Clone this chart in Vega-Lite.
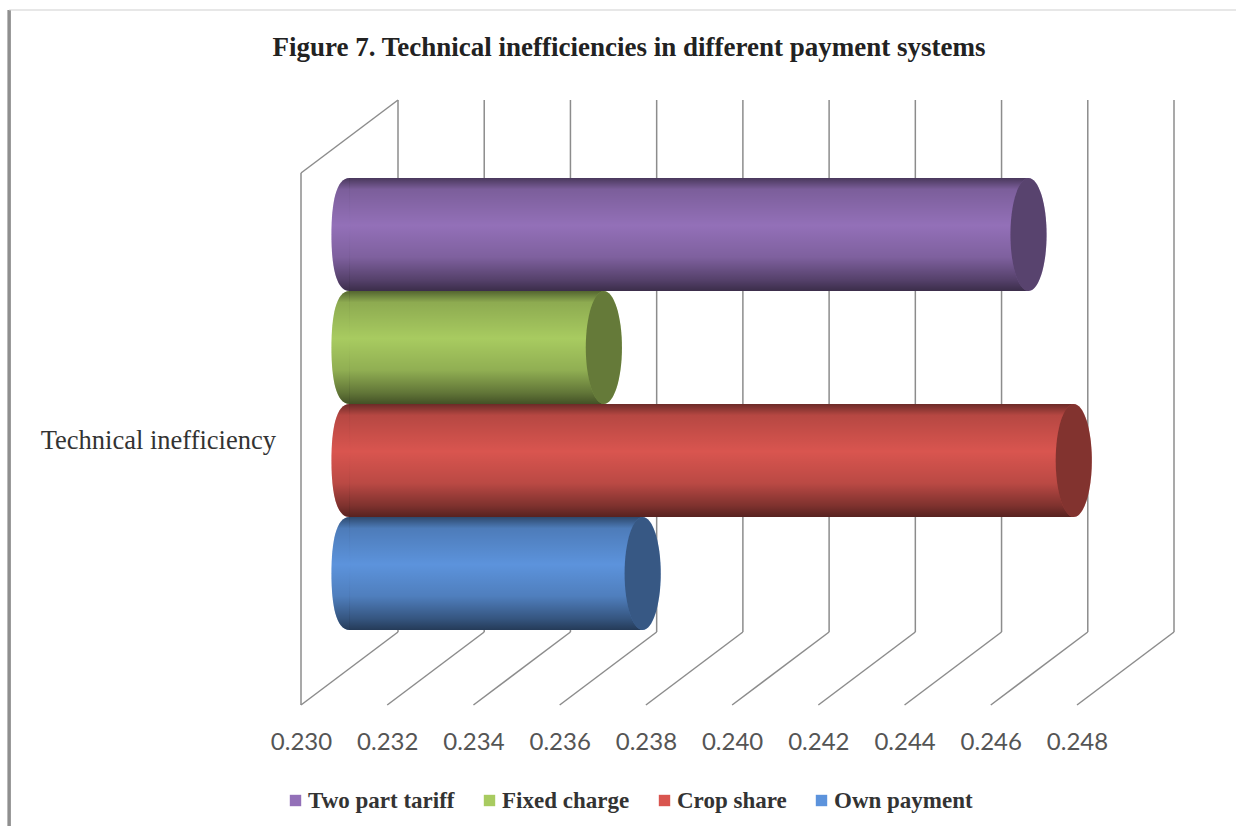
{
"$schema":"https://vega.github.io/schema/vega-lite/v6.json",
"width":776,"height":605,
"autosize":"none",
"padding":{"left":301,"top":100,"right":159,"bottom":121},
"background":"white",
"config":{"view":{"stroke":null}},
"title":{"text":"Figure 7.  Technical inefficiencies in different payment systems","font":"Liberation Serif","fontSize":27,"fontWeight":"bold","color":"#222222","anchor":"middle","frame":"group","dx":-60,"dy":93,"offset":39},
"datasets":{
"bars":[
{"series":"Two part tariff","start":0.23,"value":0.24575},
{"series":"Fixed charge","start":0.23,"value":0.2359},
{"series":"Crop share","start":0.23,"value":0.2468},
{"series":"Own payment","start":0.23,"value":0.2368}
],
"walls":[
{"x":0.23,"x2":0.23,"y":0,"y2":532},
{"x":0.23,"x2":0.23225,"y":532,"y2":605},
{"x":0.23,"x2":0.23225,"y":0,"y2":73},
{"x":0.232,"x2":0.23425,"y":0,"y2":73},
{"x":0.234,"x2":0.23625,"y":0,"y2":73},
{"x":0.236,"x2":0.23825,"y":0,"y2":73},
{"x":0.238,"x2":0.24025,"y":0,"y2":73},
{"x":0.24,"x2":0.24225,"y":0,"y2":73},
{"x":0.242,"x2":0.24425,"y":0,"y2":73},
{"x":0.244,"x2":0.24625,"y":0,"y2":73},
{"x":0.246,"x2":0.24825,"y":0,"y2":73},
{"x":0.248,"x2":0.25025,"y":0,"y2":73},
{"x":0.23225,"x2":0.23225,"y":73,"y2":605},
{"x":0.23425,"x2":0.23425,"y":73,"y2":605},
{"x":0.23625,"x2":0.23625,"y":73,"y2":605},
{"x":0.23825,"x2":0.23825,"y":73,"y2":605},
{"x":0.24025,"x2":0.24025,"y":73,"y2":605},
{"x":0.24225,"x2":0.24225,"y":73,"y2":605},
{"x":0.24425,"x2":0.24425,"y":73,"y2":605},
{"x":0.24625,"x2":0.24625,"y":73,"y2":605},
{"x":0.24825,"x2":0.24825,"y":73,"y2":605},
{"x":0.25025,"x2":0.25025,"y":73,"y2":605}
],
"frameLeft":[{"x":0.22323,"x2":0.22323,"y":-121,"y2":695}],
"frameTop":[{"x":0.22323,"x2":0.2517,"y":695,"y2":695}],
"category":[{"label":"Technical inefficiency","x":0.23,"y":264}]
},
"resolve":{"scale":{"y":"independent"}},
"layer":[
{"layer":[
{"data":{"name":"walls"},"mark":{"type":"rule","color":"#8c8c8c","strokeWidth":1.5},
"encoding":{
"x":{"field":"x","type":"quantitative","scale":{"domain":[0.23,0.248],"nice":false,"zero":false},
"axis":{"values":[0.23,0.232,0.234,0.236,0.238,0.24,0.242,0.244,0.246,0.248],"format":".3f","title":null,"grid":false,"domain":false,"ticks":false,"labelFont":"Lato","labelFontSize":24,"labelColor":"#555555","labelPadding":25,"labelOverlap":false,"labelFlush":false}},
"x2":{"field":"x2"},
"y":{"field":"y","type":"quantitative","scale":{"domain":[0,605],"nice":false},"axis":null},
"y2":{"field":"y2"}}},
{"data":{"name":"frameLeft"},"mark":{"type":"rule","color":"#8f8f8f","strokeWidth":3.5},
"encoding":{"x":{"field":"x","type":"quantitative"},"x2":{"field":"x2"},"y":{"field":"y","type":"quantitative"},"y2":{"field":"y2"}}},
{"data":{"name":"frameTop"},"mark":{"type":"rule","color":"#d0d0d0","strokeWidth":1.2},
"encoding":{"x":{"field":"x","type":"quantitative"},"x2":{"field":"x2"},"y":{"field":"y","type":"quantitative"}}},
{"data":{"name":"category"},"mark":{"type":"text","align":"right","baseline":"middle","xOffset":-25,"font":"Liberation Serif","fontSize":26.5,"color":"#333333"},
"encoding":{"x":{"field":"x","type":"quantitative"},"y":{"field":"y","type":"quantitative"},"text":{"field":"label"}}}
]},
{"data":{"name":"bars"},
"encoding":{
"y":{"field":"series","type":"nominal","sort":["Two part tariff","Fixed charge","Crop share","Own payment"],"scale":{"paddingInner":0,"paddingOuter":0.677,"align":0.51},"axis":null}
},
"layer":[
{"mark":{"type":"bar","xOffset":48.5,"x2Offset":48.5},
"encoding":{
"x":{"field":"start","type":"quantitative"},
"x2":{"field":"value"},
"color":{"field":"series","type":"nominal",
"scale":{"domain":["Two part tariff","Fixed charge","Crop share","Own payment"],"range":["#9370b8","#a8cb60","#d9554f","#5c93dc"]},
"legend":{"orient":"none","legendX":-17,"legendY":689,"direction":"horizontal","columns":4,"title":null,"symbolType":"square","symbolSize":130,"labelFont":"Liberation Serif","labelFontSize":23,"labelFontWeight":"bold","labelColor":"#333333","labelOffset":1,"columnPadding":23,"gridAlign":"none","labelLimit":300}}}},
{"mark":{"type":"point","filled":true,"opacity":1,"xOffset":48.5,"shape":"M0.01,-1L0,-1C-0.24,-1,-0.32,-0.55,-0.32,0C-0.32,0.55,-0.24,1,0,1L0.01,1Z","size":12769},
"encoding":{"x":{"field":"start","type":"quantitative"},"color":{"field":"series","type":"nominal","legend":null}}},
{"mark":{"type":"bar","xOffset":48.5,"x2Offset":48.5,"fill":{"gradient":"linear","x1":0,"y1":0,"x2":0,"y2":1,"stops":[{"offset":0,"color":"rgba(0,0,0,0.5)"},{"offset":0.1,"color":"rgba(0,0,0,0.16)"},{"offset":0.42,"color":"rgba(0,0,0,0)"},{"offset":0.7,"color":"rgba(0,0,0,0.14)"},{"offset":0.9,"color":"rgba(0,0,0,0.42)"},{"offset":1,"color":"rgba(0,0,0,0.6)"}]}},
"encoding":{"x":{"field":"start","type":"quantitative"},"x2":{"field":"value"}}},
{"mark":{"type":"point","filled":true,"opacity":1,"xOffset":48.5,"shape":"M0.004,-1L0,-1C-0.24,-1,-0.32,-0.55,-0.32,0C-0.32,0.55,-0.24,1,0,1L0.004,1Z","size":12769,"fill":{"gradient":"linear","x1":0,"y1":0,"x2":0,"y2":1,"stops":[{"offset":0,"color":"rgba(0,0,0,0.5)"},{"offset":0.1,"color":"rgba(0,0,0,0.16)"},{"offset":0.42,"color":"rgba(0,0,0,0)"},{"offset":0.7,"color":"rgba(0,0,0,0.14)"},{"offset":0.9,"color":"rgba(0,0,0,0.42)"},{"offset":1,"color":"rgba(0,0,0,0.6)"}]}},
"encoding":{"x":{"field":"start","type":"quantitative"}}},
{"mark":{"type":"point","filled":true,"opacity":1,"xOffset":48.5,"shape":"M-0.32,0C-0.32,-0.55,-0.18,-1,0,-1C0.18,-1,0.32,-0.55,0.32,0C0.32,0.55,0.18,1,0,1C-0.18,1,-0.32,0.55,-0.32,0Z","size":12769},
"encoding":{"x":{"field":"value","type":"quantitative"},"color":{"field":"series","type":"nominal","legend":null}}},
{"mark":{"type":"point","filled":true,"opacity":0.4,"color":"#000000","xOffset":48.5,"shape":"M-0.32,0C-0.32,-0.55,-0.18,-1,0,-1C0.18,-1,0.32,-0.55,0.32,0C0.32,0.55,0.18,1,0,1C-0.18,1,-0.32,0.55,-0.32,0Z","size":12769},
"encoding":{"x":{"field":"value","type":"quantitative"}}}
]}
]
}
